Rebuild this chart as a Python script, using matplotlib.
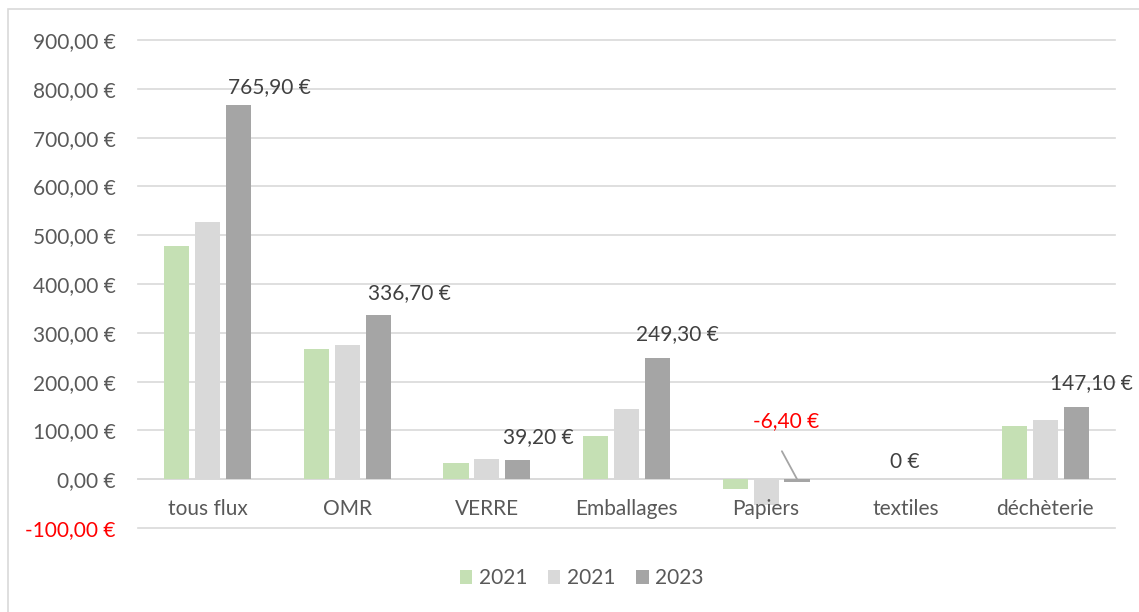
import matplotlib.pyplot as plt
from matplotlib.patches import Rectangle
import numpy as np

plt.rcParams['font.family'] = ['Lato', 'DejaVu Sans']

categories = ['tous flux', 'OMR', 'VERRE', 'Emballages', 'Papiers', 'textiles', 'déchèterie']
series_names = ['2021', '2021', '2023']
values_2021a = [477, 266, 33, 88, -20, 0, 110]
values_2021b = [527, 275, 41, 143, -53, 0, 121]
values_2023 = [765.9, 336.7, 39.2, 249.3, -6.4, 0, 147.1]
label_texts = ['765,90 €', '336,70 €', '39,20 €', '249,30 €', '-6,40 €', '0 €', '147,10 €']

colors = ['#c5e0b4', '#d9d9d9', '#a5a5a5']
text_grey = '#595959'
label_grey = '#404040'
fs = 15

# label offsets in pixels (dx, dy) from top-centre of 2023 bar
label_offsets = [(31, 18), (31, 22), (20, 23), (20, 23), (-11, 58), (-32, 17), (15, 24)]

fig = plt.figure(figsize=(11.39, 6.12), dpi=100)
ax = fig.add_axes([138 / 1139, 84 / 612, 977 / 1139, 488 / 612])

x = np.arange(len(categories))
width = 0.18
step = 0.222
all_vals = [values_2021a, values_2021b, values_2023]
for i, (vals, name) in enumerate(zip(all_vals, series_names)):
    ax.bar(x + (i - 1) * step, vals, width, color=colors[i], label=name, zorder=3)

ax.set_xlim(-0.5, len(categories) - 0.5)
ax.set_ylim(-100, 900)
yticks = np.arange(-100, 901, 100)
ax.set_yticks(yticks)
ax.set_yticklabels([f'{v:,.2f} €'.replace(',', ' ').replace('.', ',') for v in yticks])
for lbl, v in zip(ax.get_yticklabels(), yticks):
    lbl.set_color('red' if v < 0 else text_grey)
ax.tick_params(axis='y', length=0, labelsize=fs, pad=16)
ax.yaxis.grid(True, color='#d9d9d9', linewidth=1.2, zorder=0)
for gl in ax.get_ygridlines():
    gl.set_clip_on(False)

for s in ['top', 'right', 'left']:
    ax.spines[s].set_visible(False)
ax.spines['bottom'].set_position(('data', 0))
ax.spines['bottom'].set_color('#d9d9d9')
ax.spines['bottom'].set_linewidth(1.2)
ax.set_xticks(x)
ax.set_xticklabels(categories)
ax.tick_params(axis='x', length=0, labelsize=fs, labelcolor=text_grey, pad=14)
# category names sit on top of the negative bars
ax.xaxis.set_zorder(4)

# data labels on the 2023 series
for i, (v, t) in enumerate(zip(values_2023, label_texts)):
    dx, dy = label_offsets[i]
    xb = x[i] + step
    top = max(v, 0)
    color = 'red' if v < 0 else label_grey
    ax.annotate(t, (xb, top), xytext=(dx * 0.72, dy * 0.72), textcoords='offset points',
                ha='center', va='center', fontsize=fs, color=color, zorder=5)
    if v < 0:
        ax.annotate('', (xb, 0), xytext=(dx * 0.72 - 3, (dy - 30) * 0.72), textcoords='offset points',
                    arrowprops=dict(arrowstyle='-', color='#a5a5a5', lw=1.3, shrinkA=0, shrinkB=0))

leg = ax.legend(loc='center', bbox_to_anchor=(0.454, -0.103), ncol=3, frameon=False,
                fontsize=fs, handlelength=0.6, handleheight=0.6, handletextpad=0.3, columnspacing=1.0)
for t in leg.get_texts():
    t.set_color(text_grey)

fig.patches.append(Rectangle((8 / 1139, -0.01), 1.0, 603 / 612 + 0.01, transform=fig.transFigure,
                             fill=False, edgecolor='#d9d9d9', linewidth=1.2))

fig.savefig('out.png', dpi=100)
